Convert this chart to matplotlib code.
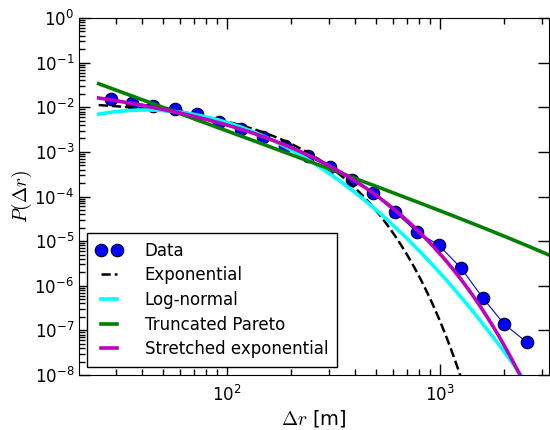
import numpy as np
import matplotlib
matplotlib.use("Agg")
import matplotlib.pyplot as plt

# ---- data ----
dr_data = [28.5, 35.8, 45.2, 57.3, 72.6, 91.7, 116, 148, 188, 239,
           304, 386, 485, 615, 780, 989, 1255, 1592, 1996, 2558]
p_data = [1.54e-2, 1.26e-2, 1.09e-2, 9.0e-3, 6.9e-3, 4.7e-3, 3.25e-3, 2.2e-3,
          1.38e-3, 7.9e-4, 4.6e-4, 2.33e-4, 1.19e-4, 4.5e-5, 1.6e-5, 8.1e-6,
          2.5e-6, 5.3e-7, 1.4e-7, 5.4e-8]

# fitted model parameters (estimated from the reference curves)
x_min, x_max = 25.0, 3250.0
exp_amp, exp_scale = 0.0112, 87.5                 # exponential
ln_amp, ln_mu, ln_sigma = 0.4876, 4.328, 0.776    # log-normal
tp_logamp, tp_alpha, tp_cut = 0.9756, 1.75, 1.0e4  # truncated Pareto
se_logamp, se_beta, se_lambda = -1.08, 0.68, 52.0  # stretched exponential

labels = ["Data", "Exponential", "Log-normal", "Truncated Pareto",
          "Stretched exponential"]

plt.rcParams["mathtext.fontset"] = "cm"
plt.rcParams["font.family"] = ["DejaVu Sans"]
plt.rcParams["font.size"] = 12

fig = plt.figure(figsize=(5.5, 4.3), dpi=100)
ax = fig.add_axes([0.1436, 0.128, 0.8545, 0.830])

xf = np.logspace(np.log10(x_min), np.log10(x_max), 500)
p_exp = exp_amp * np.exp(-(xf - x_min) / exp_scale)
p_ln = ln_amp / xf * np.exp(-(np.log(xf) - ln_mu) ** 2 / (2 * ln_sigma ** 2))
p_tp = 10 ** tp_logamp * xf ** (-tp_alpha) * np.exp(-xf / tp_cut)
p_se = 10 ** se_logamp * xf ** (se_beta - 1) * np.exp(-(xf / se_lambda) ** se_beta)

ax.plot(dr_data, p_data, "-", color="#0000ff", lw=0.8, zorder=2)
ax.plot(dr_data, p_data, "o", color="#0000ff", mec="#000033", mew=0.8,
        ms=9, label=labels[0], zorder=2)
ax.plot(xf, p_exp, "--", color="black", lw=1.8, label=labels[1], zorder=3)
ax.plot(xf, p_ln, "-", color="cyan", lw=2.6, label=labels[2], zorder=3)
ax.plot(xf, p_tp, "-", color="#008000", lw=2.6, label=labels[3], zorder=3)
ax.plot(xf, p_se, "-", color="#bf00bf", lw=2.6, label=labels[4], zorder=4)

ax.set_xscale("log")
ax.set_yscale("log")
ax.set_xlim(20.2, 3250)
ax.set_ylim(1e-8, 1)
ax.set_yticks([10.0 ** k for k in range(-8, 1)])
ax.yaxis.set_minor_locator(matplotlib.ticker.LogLocator(base=10, subs=np.arange(2, 10), numticks=20))

ax.tick_params(which="both", direction="in", top=True, right=True, labelsize=12)
ax.tick_params(which="major", length=8, width=1)
ax.tick_params(which="minor", length=4, width=1)
ax.tick_params(axis="y", which="minor", right=False)
ax.tick_params(axis="x", which="major", pad=7)

ax.set_xlabel(r"$\Delta r$ [m]", fontsize=14, labelpad=2)
ax.set_ylabel(r"$P(\Delta r)$", fontsize=14, labelpad=0)

leg = ax.legend(loc="lower left", numpoints=2, fancybox=False, fontsize=12,
                handlelength=1.6, handletextpad=1.35, borderaxespad=0.5,
                borderpad=0.5, labelspacing=0.4, framealpha=1)
leg.get_frame().set_edgecolor("black")
leg.get_frame().set_linewidth(1.0)

fig.savefig("out.png", dpi=100)
